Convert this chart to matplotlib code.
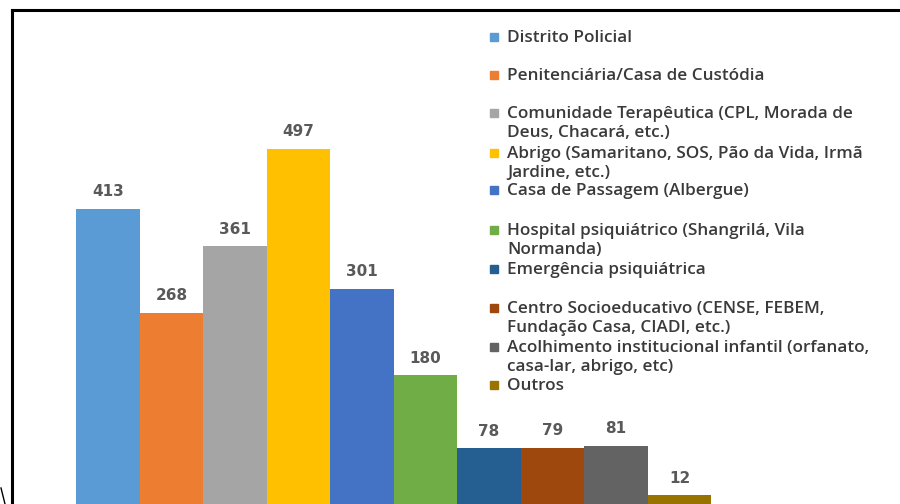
import matplotlib
matplotlib.use("Agg")
from matplotlib import pyplot as plt
from matplotlib.lines import Line2D
from matplotlib.patches import Rectangle

# dados
categorias = ["Distrito Policial",
              "Penitenciária/Casa de Custódia",
              "Comunidade Terapêutica (CPL, Morada de\nDeus, Chacará, etc.)",
              "Abrigo (Samaritano, SOS, Pão da Vida, Irmã\nJardine, etc.)",
              "Casa de Passagem (Albergue)",
              "Hospital psiquiátrico (Shangrilá, Vila\nNormanda)",
              "Emergência psiquiátrica",
              "Centro Socioeducativo (CENSE, FEBEM,\nFundação Casa, CIADI, etc.)",
              "Acolhimento institucional infantil (orfanato,\ncasa-lar, abrigo, etc)",
              "Outros"]
valores = [413, 268, 361, 497, 301, 180, 78, 79, 81, 12]
cores = ["#5B9BD5", "#ED7D31", "#A5A5A5", "#FFC000", "#4472C4",
         "#70AD47", "#255E91", "#9E480E", "#636363", "#997300"]

W, H = 900, 504
fig = plt.figure(figsize=(W/100, H/100), dpi=100)
ax = fig.add_axes([0, 0, 1, 1])

passo = 63.5   # px por barra
x0 = 108       # centro da primeira barra (px)
ax.set_xlim(-x0/passo, (W-x0)/passo)
ax.set_ylim(0, H/0.714)
ax.axis("off")

xs = list(range(len(valores)))
ax.bar(xs, valores, width=1.0, color=cores, linewidth=0)
for x, v in zip(xs, valores):
    ax.annotate(str(v), (x, v), xytext=(0, 7), textcoords="offset points",
                ha="center", va="bottom", fontsize=11, fontweight="bold",
                color="#595959", family="DejaVu Sans")

# legenda manual
leg_y = [37, 75, 113, 153, 190, 230, 269, 308, 347, 385]
for lab, c, y in zip(categorias, cores, leg_y):
    fig.patches.append(Rectangle((490/W, 1-(y+4)/H), 8/W, 8/H, color=c,
                                 transform=fig.transFigure, figure=fig))
    fig.text(507/W, 1-(y-7)/H, lab, ha="left", va="top", fontsize=12.3,
             color="#3a3a3a", family="Open Sans", fontweight="semibold",
             linespacing=1.25)

# moldura
lw = 2.2
fig.add_artist(Line2D([12/W, 12/W], [0, 1-10/H], color="black", lw=lw))
fig.add_artist(Line2D([12/W, 1], [1-10/H, 1-10/H], color="black", lw=lw))
fig.add_artist(Line2D([1/W, 5/W], [16/H, 0], color="black", lw=1))

fig.savefig("out.png", dpi=100)
